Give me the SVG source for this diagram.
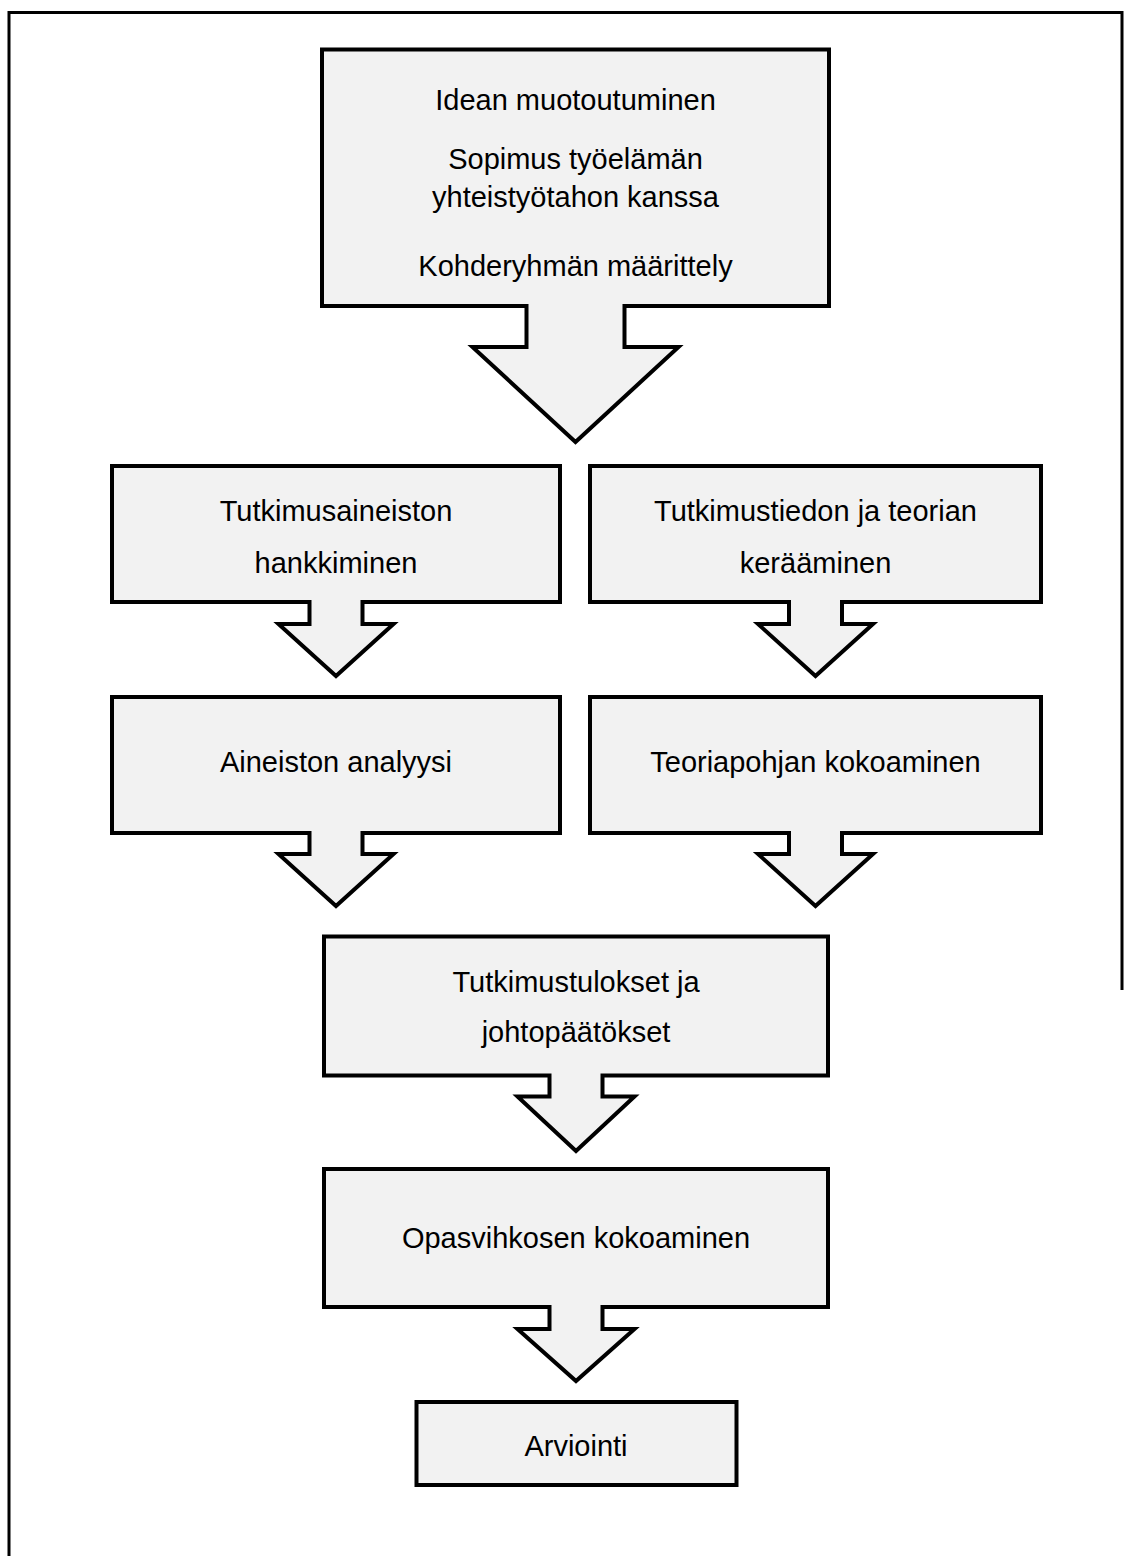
<svg xmlns="http://www.w3.org/2000/svg" width="1130" height="1556" viewBox="0 0 1130 1556">
<style>
.shape{fill:#f2f2f2;stroke:#000;stroke-width:4;stroke-linejoin:miter;stroke-miterlimit:10}
.frame{fill:none;stroke:#000;stroke-width:3}
.t{font-family:"Liberation Sans",Arial,sans-serif;font-size:29px;fill:#000;text-anchor:middle}
</style>
<rect width="1130" height="1556" fill="#fff"/>
<path class="frame" d="M9,1556 V12.5 H1122 V990"/>
<g id="n1">
<path class="shape" d="M322,49.5 H829 V306 H624.5 V347 H678.5 L575.5,442 L472.5,347 H526.5 V306 H322 Z"/>
<text class="t" x="575.5" y="110">Idean muotoutuminen</text>
<text class="t" x="575.5" y="169">Sopimus työelämän</text>
<text class="t" x="575.5" y="207">yhteistyötahon kanssa</text>
<text class="t" x="575.5" y="276">Kohderyhmän määrittely</text>
</g>
<g id="n2">
<path class="shape" d="M112,466 H560 V602 H362.5 V624 H393.5 L336,676 L278.5,624 H309.5 V602 H112 Z"/>
<text class="t" x="336" y="521">Tutkimusaineiston</text>
<text class="t" x="336" y="573">hankkiminen</text>
</g>
<g id="n3">
<path class="shape" d="M590,466 H1041 V602 H842 V624 H873 L815.5,676 L758,624 H789 V602 H590 Z"/>
<text class="t" x="815.5" y="521">Tutkimustiedon ja teorian</text>
<text class="t" x="815.5" y="573">kerääminen</text>
</g>
<g id="n4">
<path class="shape" d="M112,697 H560 V833 H362.5 V854 H393.5 L336,906 L278.5,854 H309.5 V833 H112 Z"/>
<text class="t" x="336" y="772">Aineiston analyysi</text>
</g>
<g id="n5">
<path class="shape" d="M590,697 H1041 V833 H842 V854 H873 L815.5,906 L758,854 H789 V833 H590 Z"/>
<text class="t" x="815.5" y="772">Teoriapohjan kokoaminen</text>
</g>
<g id="n6">
<path class="shape" d="M324,936.5 H828 V1075.5 H602.5 V1096.5 H634.5 L576,1151 L517.5,1096.5 H549.5 V1075.5 H324 Z"/>
<text class="t" x="576" y="992">Tutkimustulokset ja</text>
<text class="t" x="576" y="1042">johtopäätökset</text>
</g>
<g id="n7">
<path class="shape" d="M324,1169 H828 V1307 H602.5 V1329 H634.5 L576,1381 L517.5,1329 H549.5 V1307 H324 Z"/>
<text class="t" x="576" y="1248">Opasvihkosen kokoaminen</text>
</g>
<g id="n8">
<rect class="shape" x="416.5" y="1402" width="320" height="83"/>
<text class="t" x="576" y="1456">Arviointi</text>
</g>
<g id="connectors"/>
</svg>
